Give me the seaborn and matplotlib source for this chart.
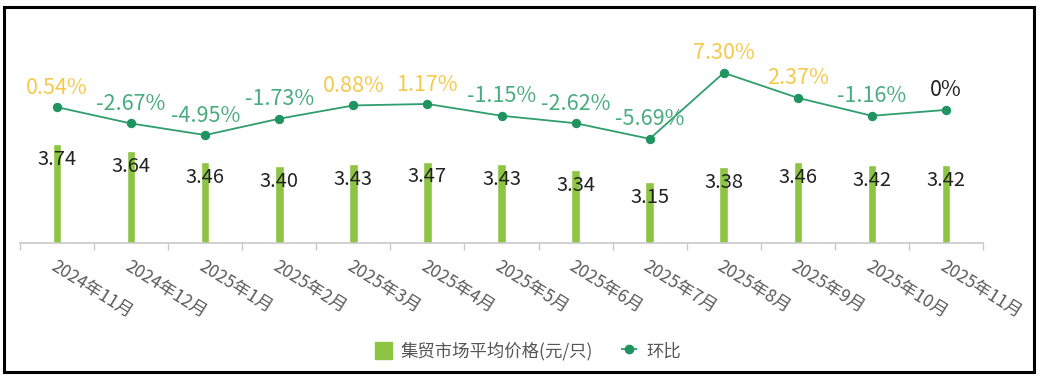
import numpy as np
import pandas as pd
import matplotlib
matplotlib.use("Agg")
import matplotlib.pyplot as plt
import matplotlib.transforms as mtransforms
from matplotlib.patches import Rectangle, Patch
from matplotlib.lines import Line2D
import seaborn as sns

months = ["2024年11月", "2024年12月", "2025年1月", "2025年2月", "2025年3月", "2025年4月",
          "2025年5月", "2025年6月", "2025年7月", "2025年8月", "2025年9月", "2025年10月", "2025年11月"]
price = [3.74, 3.64, 3.46, 3.40, 3.43, 3.47, 3.43, 3.34, 3.15, 3.38, 3.46, 3.42, 3.42]
mom = [0.54, -2.67, -4.95, -1.73, 0.88, 1.17, -1.15, -2.62, -5.69, 7.30, 2.37, -1.16, 0.0]
price_labels = ["3.74", "3.64", "3.46", "3.40", "3.43", "3.47", "3.43", "3.34", "3.15", "3.38", "3.46", "3.42", "3.42"]
mom_labels = ["0.54%", "-2.67%", "-4.95%", "-1.73%", "0.88%", "1.17%", "-1.15%", "-2.62%", "-5.69%",
              "7.30%", "2.37%", "-1.16%", "0%"]
legend_bar = "集贸市场平均价格(元/只)"
legend_line = "环比"

sns.set_theme(style="white")
plt.rcParams['font.family'] = ['Noto Sans CJK SC', 'DejaVu Sans']

BAR_C = "#8DC443"
LINE_C = "#2F9E6E"
POS_C = "#F5C94A"
NEG_C = "#48AC7E"

W, H = 1041, 380
fig = plt.figure(figsize=(W / 100, H / 100), dpi=100)
fig.patch.set_facecolor("white")

ax = fig.add_axes([20 / W, 1 - 243 / H, (983 - 20) / W, (243 - 20) / H])
df = pd.DataFrame({"month": months, "price": price, "idx": np.arange(len(months)), "mom": mom})
sns.barplot(data=df, x="month", y="price", color=BAR_C, width=0.115, saturation=1, ax=ax)
ax.set_xlim(-0.5, len(months) - 0.5)
ax.set_ylim(2.2, 5.68)
ax.set_xlabel("")
ax.set_ylabel("")
ax.set_yticks([])
for s in ["top", "right", "left"]:
    ax.spines[s].set_visible(False)
ax.spines["bottom"].set_color("#c8c8c8")
ax.spines["bottom"].set_linewidth(1.2)

# bar value labels
for i, (v, t) in enumerate(zip(price, price_labels)):
    ax.annotate(t, (i, v), xytext=(0, -11), textcoords="offset points",
                ha="center", va="center", fontsize=14.5, color="#222222")

# ticks at band boundaries
ax.set_xticks(np.arange(len(months)))
ax.set_xticks(np.arange(-0.5, len(months)), minor=True)
ax.tick_params(axis="x", which="major", length=0, pad=2)
ax.tick_params(axis="x", which="minor", length=5, color="#c8c8c8", width=1, direction="out", bottom=True)
ax.set_xticklabels(months, fontsize=12.5, color="#5a5a5a")
offset = mtransforms.ScaledTranslation(0 / 100, -11 / 100, fig.dpi_scale_trans)
for lbl in ax.get_xticklabels():
    lbl.set_rotation(-32)
    lbl.set_ha("left")
    lbl.set_va("top")
    lbl.set_rotation_mode("anchor")
    lbl.set_transform(lbl.get_transform() + offset)

# line on twin axis
ax2 = ax.twinx()
sns.lineplot(data=df, x="idx", y="mom", ax=ax2, color=LINE_C, linewidth=1.3,
             marker="o", markersize=6, markerfacecolor="#1F9461", markeredgecolor="#1F9461")
ax2.set_ylim(-26.2, 17.7)
ax2.set_xlim(-0.5, len(months) - 0.5)
ax2.set_yticks([])
ax2.set_xlabel("")
ax2.set_ylabel("")
for s in ["top", "right", "left", "bottom"]:
    ax2.spines[s].set_visible(False)
for i, (v, t) in enumerate(zip(mom, mom_labels)):
    c = POS_C if v > 0 else (NEG_C if v < 0 else "#222222")
    ax2.annotate(t, (i, v), xytext=(0, 14), textcoords="offset points",
                 ha="center", va="center", fontsize=15.5, color=c)

# legend
handles = [Patch(facecolor=BAR_C, edgecolor=BAR_C),
           Line2D([0], [0], color=LINE_C, linestyle="--", linewidth=1.3, marker="o",
                  markersize=6, markerfacecolor="#1F9461", markeredgecolor="#1F9461")]
fig.legend(handles, [legend_bar, legend_line], loc="center", bbox_to_anchor=(528 / W, 1 - 351 / H),
           ncol=2, frameon=False, fontsize=12.5, handlelength=1.0, handleheight=1.1,
           columnspacing=1.6, handletextpad=0.5, labelcolor="#555555")

# outer frame
fig.patches.append(Rectangle((4 / W, 1 - 372 / H), (1034 - 4) / W, (372 - 7) / H,
                             transform=fig.transFigure, fill=False, edgecolor="black",
                             linewidth=2.2, zorder=10))

fig.savefig("out.png", dpi=100, facecolor="white")
